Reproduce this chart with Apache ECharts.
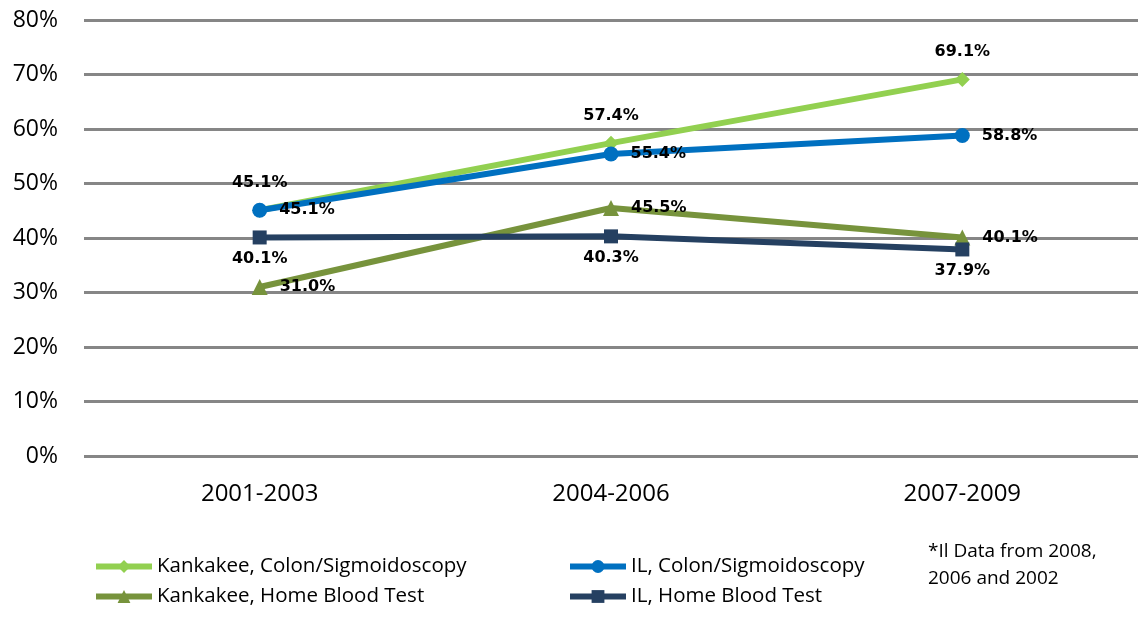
<!DOCTYPE html>
<html>
<head>
<meta charset="utf-8">
<script src="https://cdn.jsdelivr.net/npm/echarts@6/dist/echarts.min.js"></script>
<style>html,body{margin:0;padding:0;background:#fff;}#c{width:1138px;height:622px;}</style>
</head>
<body>
<div id="c"></div>
<script>
const categories = ['2001-2003', '2004-2006', '2007-2009'];
const kankakeeColon = [45.1, 57.4, 69.1];
const ilColon = [45.1, 55.4, 58.8];
const kankakeeHome = [31.0, 45.5, 40.1];
const ilHome = [40.1, 40.3, 37.9];
const yTicks = [0, 10, 20, 30, 40, 50, 60, 70, 80];
const seriesNames = ['Kankakee, Colon/Sigmoidoscopy', 'IL, Colon/Sigmoidoscopy', 'Kankakee, Home Blood Test', 'IL, Home Blood Test'];
const noteLines = ['*Il Data from 2008,', '2006 and 2002'];

const FONT = 'Open Sans';
const labelStyle = (pos, dist) => ({
  show: true, position: pos, distance: dist,
  formatter: p => p.value.toFixed(1) + '%',
  fontFamily: 'DejaVu Sans', fontWeight: 'bold', fontSize: 16, color: '#000'
});
const mkSeries = (name, data, color, symbol, size, pos, dist) => ({
  name, type: 'line', data, symbol, symbolSize: size,
  lineStyle: { color, width: 6 }, itemStyle: { color },
  label: labelStyle(pos, dist), z: 3
});
const legendAt = (name, left, top) => ({
  data: [name], left, top, padding: 0, itemWidth: 56, itemHeight: 16, itemGap: 5,
  lineStyle: { width: 6 },
  textStyle: { fontFamily: FONT, fontSize: 20.5, color: '#000', lineHeight: 20 }
});

const chart = echarts.init(document.getElementById('c'), null, { renderer: 'canvas' });
chart.setOption({
  animation: false,
  backgroundColor: '#fff',
  grid: { left: 84, right: 0, top: 20, bottom: 166 },
  xAxis: {
    type: 'category', data: categories,
    axisLine: { show: false }, axisTick: { show: false },
    axisLabel: { fontFamily: FONT, fontSize: 24, color: '#000', margin: 26 }
  },
  yAxis: {
    type: 'value', min: yTicks[0], max: yTicks[yTicks.length - 1], interval: 10,
    axisLine: { show: false }, axisTick: { show: false },
    axisLabel: { fontFamily: FONT, fontSize: 23, color: '#000', margin: 26, formatter: '{value}%' },
    splitLine: { lineStyle: { color: '#868686', width: 3 } }
  },
  legend: [
    legendAt(seriesNames[0], 93, 556),
    legendAt(seriesNames[1], 567, 556),
    legendAt(seriesNames[2], 93, 586),
    legendAt(seriesNames[3], 567, 586)
  ],
  graphic: noteLines.map((t, i) => ({
    type: 'text', left: 928, top: 542 + i * 27,
    style: { text: t, font: '19px "Open Sans"', fill: '#000' }
  })),
  series: [
    mkSeries(seriesNames[0], kankakeeColon, '#92D050', 'diamond', 15, 'top', 12),
    mkSeries(seriesNames[1], ilColon, '#0070C0', 'circle', 15, 'right', 12),
    mkSeries(seriesNames[2], kankakeeHome, '#77933C', 'triangle', 16, 'right', 12),
    mkSeries(seriesNames[3], ilHome, '#254061', 'rect', 14, 'bottom', 6)
  ]
});
</script>
</body>
</html>
